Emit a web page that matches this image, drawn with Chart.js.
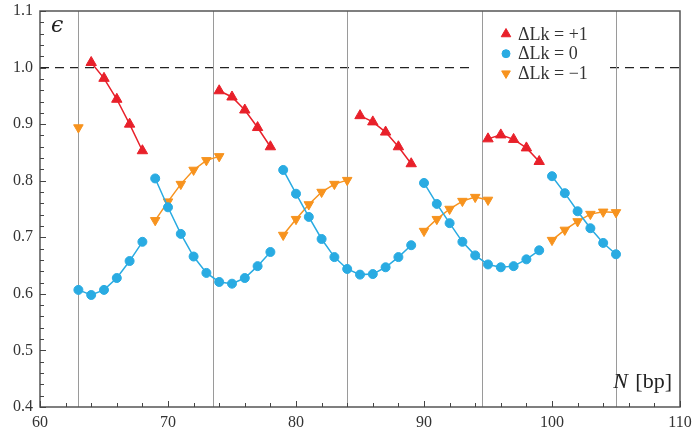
<!DOCTYPE html>
<html>
<head>
<meta charset="utf-8">
<script src="https://cdn.jsdelivr.net/npm/chart.js@4.4.1/dist/chart.umd.min.js"></script>
<style>
  html, body { margin: 0; padding: 0; background: #fff; }
  #wrap { width: 696px; height: 432px; }
</style>
</head>
<body>
<div id="wrap"><canvas id="chart"></canvas></div>
<script>
// epsilon vs N, null entries break the line between groups
const redN = [64, 65, 66, 67, 68, 71, 74, 75, 76, 77, 78, 81.5, 85, 86, 87, 88, 89, 92, 95, 96, 97, 98, 99];
const redEps = [1.009, 0.981, 0.944, 0.900, 0.853, null,
    0.959, 0.948, 0.925, 0.894, 0.860, null,
    0.915, 0.904, 0.886, 0.860, 0.830, null,
    0.874, 0.881, 0.873, 0.858, 0.834];

const blueN = [63, 64, 65, 66, 67, 68, 68.5,
    69, 70, 71, 72, 73, 74, 75, 76, 77, 78, 78.5,
    79, 80, 81, 82, 83, 84, 85, 86, 87, 88, 89, 89.5,
    90, 91, 92, 93, 94, 95, 96, 97, 98, 99, 99.5,
    100, 101, 102, 103, 104, 105];
const blueEps = [0.607, 0.598, 0.607, 0.628, 0.658, 0.692, null,
    0.804, 0.753, 0.706, 0.666, 0.637, 0.621, 0.618, 0.628, 0.649, 0.674, null,
    0.819, 0.777, 0.736, 0.697, 0.665, 0.644, 0.634, 0.635, 0.647, 0.665, 0.686, null,
    0.796, 0.759, 0.725, 0.692, 0.668, 0.652, 0.647, 0.649, 0.661, 0.677, null,
    0.808, 0.778, 0.746, 0.716, 0.690, 0.670];

const orangeN = [63, 66, 69, 70, 71, 72, 73, 74, 76.5, 79, 80, 81, 82, 83, 84, 87,
    90, 91, 92, 93, 94, 95, 97.5, 100, 101, 102, 103, 104, 105];
const orangeEps = [0.894, null,
    0.730, 0.763, 0.794, 0.819, 0.836, 0.843, null,
    0.704, 0.732, 0.758, 0.780, 0.794, 0.801, null,
    0.711, 0.732, 0.750, 0.764, 0.771, 0.766, null,
    0.695, 0.713, 0.728, 0.741, 0.745, 0.744];

const legendLabels = ["\u0394Lk = +1", "\u0394Lk = 0", "\u0394Lk = \u22121"];
const refLines = [63, 73.5, 84, 94.5, 105];   // thin gray verticals
const xTicks = [60, 70, 80, 90, 100, 110];
const yTicks = [0.4, 0.5, 0.6, 0.7, 0.8, 0.9, 1.0, 1.1];

const RED = "#e8202a", BLUE = "#29abe2", ORANGE = "#f7931e";
const SERIF = "'Liberation Serif', 'DejaVu Serif', serif";

function pts(xs, ys) {
    return xs.map((x, i) => ({ x: x, y: ys[i] }));
}

const styles = [
    { color: RED, pointStyle: "triangle", radius: 6, rotation: 0 },
    { color: BLUE, pointStyle: "circle", radius: 4.5, rotation: 0 },
    { color: ORANGE, pointStyle: "triangle", radius: 5.5, rotation: 180 }
];
const series = [pts(redN, redEps), pts(blueN, blueEps), pts(orangeN, orangeEps)];

const datasets = series.map((d, i) => ({
    label: legendLabels[i],
    data: d,
    borderColor: styles[i].color,
    backgroundColor: styles[i].color,
    borderWidth: 1.5,
    pointStyle: styles[i].pointStyle,
    pointRadius: styles[i].radius,
    pointRotation: styles[i].rotation,
    pointBorderWidth: 1,
    spanGaps: false,
    tension: 0
}));

// legend box (white, hides the dashed line behind it)
const LEG = { x: 473, y: 22, w: 132, h: 62 };

// frame, reference lines, inward ticks, labels, legend
const decor = {
    id: "decor",
    beforeDatasetsDraw(chart) {
        const { ctx, chartArea: a, scales: { x, y } } = chart;
        ctx.save();
        ctx.strokeStyle = "#222";
        ctx.lineWidth = 1.2;
        ctx.setLineDash([9, 6]);
        const py = y.getPixelForValue(1.0);
        ctx.beginPath(); ctx.moveTo(a.left, py); ctx.lineTo(a.right, py); ctx.stroke();
        ctx.setLineDash([]);
        ctx.fillStyle = "#fff";
        ctx.fillRect(LEG.x, LEG.y, LEG.w, LEG.h);
        ctx.strokeStyle = "#9a9a9a";
        ctx.lineWidth = 1;
        refLines.forEach(v => {
            const px = Math.round(x.getPixelForValue(v)) + 0.5;
            ctx.beginPath(); ctx.moveTo(px, a.top); ctx.lineTo(px, a.bottom); ctx.stroke();
        });
        ctx.restore();
    },
    afterDraw(chart) {
        const { ctx, chartArea: a, scales: { x, y } } = chart;
        ctx.save();
        ctx.strokeStyle = "#555";
        ctx.lineWidth = 1.5;
        ctx.strokeRect(a.left, a.top, a.right - a.left, a.bottom - a.top);

        // minor ticks every 2 bp and 0.02
        ctx.lineWidth = 1;
        ctx.strokeStyle = "#444";
        for (let v = 60; v <= 110; v += 2) {
            const px = Math.round(x.getPixelForValue(v)) + 0.5;
            const len = v % 10 === 0 ? 6 : 4;
            ctx.beginPath(); ctx.moveTo(px, a.bottom); ctx.lineTo(px, a.bottom - len); ctx.stroke();
        }
        for (let k = 20; k <= 55; k++) {
            const py = Math.round(y.getPixelForValue(k / 50)) + 0.5;
            const len = k % 5 === 0 ? 6 : 4;
            ctx.beginPath(); ctx.moveTo(a.left, py); ctx.lineTo(a.left + len, py); ctx.stroke();
        }

        // axis labels inside the frame
        ctx.fillStyle = "#222";
        ctx.textBaseline = "alphabetic";
        ctx.textAlign = "left";
        ctx.font = "italic 22px 'DejaVu Serif', serif";
        ctx.fillText("\u03f5", a.left + 11, a.top + 21);
        ctx.textAlign = "right";
        ctx.font = "22px " + SERIF;
        const bw = ctx.measureText(" [bp]").width;
        ctx.fillText(" [bp]", a.right - 8, a.bottom - 19);
        ctx.font = "italic 22px " + SERIF;
        ctx.fillText("N", a.right - 10 - bw, a.bottom - 19);

        // legend
        ctx.font = "18px " + SERIF;
        ctx.textAlign = "left";
        ctx.textBaseline = "middle";
        legendLabels.forEach((t, i) => {
            const ly = 34 + i * 19.7;
            const s = styles[i];
            ctx.fillStyle = s.color;
            ctx.strokeStyle = s.color;
            Chart.helpers.drawPoint(ctx, {
                pointStyle: s.pointStyle, radius: s.radius - 0.5,
                rotation: s.rotation, borderWidth: 1
            }, 506, ly);
            ctx.fillStyle = "#333";
            ctx.fillText(t, 518, ly + 1);
        });
        ctx.restore();
    }
};

new Chart("chart", {
    type: "line",
    data: { datasets: datasets },
    plugins: [decor],
    options: {
        responsive: true,
        maintainAspectRatio: false,
        animation: false,
        layout: { padding: { top: 11, right: 16, left: 0, bottom: 0 } },
        plugins: { legend: { display: false }, tooltip: { enabled: false } },
        scales: {
            x: {
                type: "linear",
                min: 60, max: 110,
                afterBuildTicks: s => { s.ticks = xTicks.map(v => ({ value: v })); },
                afterFit: s => { s.height = 25; s.paddingLeft = 0; s.paddingRight = 0; },
                grid: { display: false, drawTicks: false },
                border: { display: false },
                ticks: { color: "#333", padding: 6, maxRotation: 0, font: { family: SERIF, size: 16 } }
            },
            y: {
                type: "linear",
                min: 0.4, max: 1.1,
                afterBuildTicks: s => { s.ticks = yTicks.map(v => ({ value: v })); },
                afterFit: s => { s.width = 40; s.paddingTop = 0; s.paddingBottom = 0; },
                grid: { display: false, drawTicks: false },
                border: { display: false },
                ticks: {
                    color: "#333", padding: 7, font: { family: SERIF, size: 16 },
                    callback: v => v.toFixed(1)
                }
            }
        }
    }
});
</script>
</body>
</html>
